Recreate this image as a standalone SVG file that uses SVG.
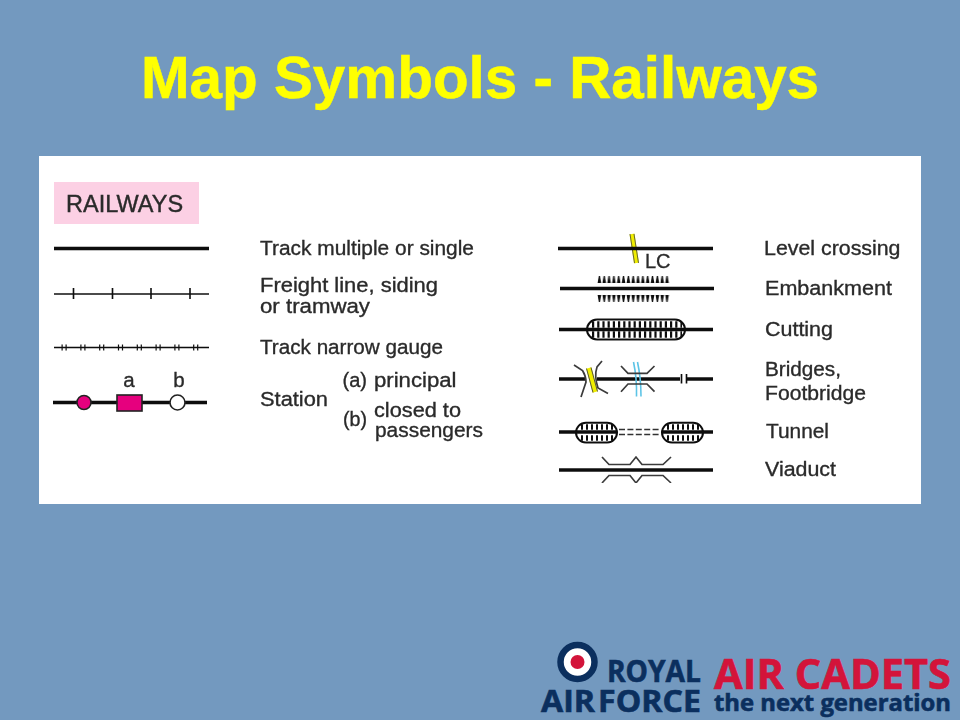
<svg xmlns="http://www.w3.org/2000/svg" width="960" height="720" viewBox="0 0 960 720">
<style>
text{font-family:"Liberation Sans",Arial,sans-serif}
.t{font-size:20.5px;fill:#2a2a2a;stroke:#2a2a2a;stroke-width:0.35}
.l{font-family:"Open Sans","Liberation Sans",sans-serif;font-weight:700;stroke-width:0.6}
.n{fill:#0b2f5e;stroke:#0b2f5e}
.r{fill:#d3143a;stroke:#d3143a}
.k{fill:none;stroke:#111}
.main{stroke-width:3.4}
.thin{stroke-width:1.6}
.sym{fill:none;stroke:#3a3a3a;stroke-width:1.7}
.cap{fill:none;stroke:#111;stroke-width:2}
</style>
<defs>
<filter id="soft" x="0" y="0" width="1" height="1"><feGaussianBlur stdDeviation="0.55"/></filter>
<pattern id="up" patternUnits="userSpaceOnUse" x="597" y="276" width="4.830" height="7"><path d="M1.800 0H3L4.200 7H0.600Z" fill="#111"/></pattern>
<pattern id="down" patternUnits="userSpaceOnUse" x="597" y="295" width="4.830" height="7"><path d="M0.600 0H4.200L3 7H1.800Z" fill="#111"/></pattern>
</defs>
<rect width="960" height="720" fill="#7399bf"/>
<text id="title" x="480" y="97.500" text-anchor="middle" font-size="58.400" font-weight="700" fill="#ffff00" stroke="#ffff00" stroke-width="0.500">Map Symbols - Railways</text>
<rect id="panel" x="39" y="156" width="882" height="348" fill="#fff"/>
<g filter="url(#soft)">
<g id="heading"><rect x="54" y="182" width="145" height="42" fill="#fcd0e4"/><text x="66" y="212" font-size="23.500" fill="#2a2a2a" stroke="#2a2a2a" stroke-width="0.400">RAILWAYS</text></g>
<g id="track"><path class="k main" d="M54 248.500H209"/><text class="t" x="260" y="255" textLength="214" lengthAdjust="spacingAndGlyphs">Track multiple or single</text></g>
<g id="freight"><path class="k thin" d="M54 294H209M73.500 288v11M112.500 288v11M151 288v11M190 288v11"/><text class="t" x="260" y="292" textLength="178" lengthAdjust="spacingAndGlyphs">Freight line, siding</text><text class="t" x="260" y="312.500" textLength="110" lengthAdjust="spacingAndGlyphs">or tramway</text></g>
<g id="narrow"><path class="k thin" d="M54 347.500H209"/><path class="k" stroke-width="6" stroke-dasharray="1.200 2.800 1.200 13.600" d="M61.500 347.500H207"/><text class="t" x="260" y="354" textLength="183" lengthAdjust="spacingAndGlyphs">Track narrow gauge</text></g>
<g id="station">
<path class="k main" d="M53 402.500H207"/>
<circle cx="84" cy="402.500" r="7" fill="#e6007e" stroke="#222" stroke-width="1.600"/>
<rect x="117" y="395" width="25" height="16" fill="#e6007e" stroke="#222" stroke-width="1.600"/>
<circle cx="177.500" cy="402.500" r="7.500" fill="#fff" stroke="#222" stroke-width="1.600"/>
<text class="t" x="129" y="387" text-anchor="middle">a</text><text class="t" x="179" y="387" text-anchor="middle">b</text>
<text class="t" x="260" y="405.500" textLength="68" lengthAdjust="spacingAndGlyphs">Station</text>
<text class="t" x="342.500" y="387" textLength="24.500" lengthAdjust="spacingAndGlyphs">(a)</text><text class="t" x="374" y="386.500" textLength="82.500" lengthAdjust="spacingAndGlyphs">principal</text>
<text class="t" x="343" y="426" textLength="24" lengthAdjust="spacingAndGlyphs">(b)</text><text class="t" x="374" y="416.500" textLength="87" lengthAdjust="spacingAndGlyphs">closed to</text><text class="t" x="375" y="436.500" textLength="108" lengthAdjust="spacingAndGlyphs">passengers</text>
</g>
<g id="level-crossing"><path d="M632 234L636.500 263" fill="none" stroke="#f0ee00" stroke-width="5"/><path d="M630 234L634.500 263M634 234L638.500 263" fill="none" stroke="#444" stroke-width="0.800"/><path class="k main" d="M558 248.500H713"/><text x="645" y="267.500" font-size="20" fill="#2a2a2a" stroke="#2a2a2a" stroke-width="0.300">LC</text><text class="t" x="764" y="255" textLength="136.500" lengthAdjust="spacingAndGlyphs">Level crossing</text></g>
<g id="embankment"><path class="k main" d="M560 288.500H714"/><rect x="597" y="276" width="72.500" height="7" fill="url(#up)"/><rect x="597" y="295" width="72.500" height="7" fill="url(#down)"/><text class="t" x="765" y="295" textLength="127" lengthAdjust="spacingAndGlyphs">Embankment</text></g>
<g id="cutting"><path class="k" stroke-width="6.500" stroke-dasharray="2.200 3" d="M592 324.500H682M592 334.500H682"/><path class="k main" d="M559 329.500H713"/><rect class="cap" x="587" y="319.500" width="98" height="20" rx="10"/><text class="t" x="765" y="336" textLength="68" lengthAdjust="spacingAndGlyphs">Cutting</text></g>
<g id="bridges">
<path class="k main" d="M559 379H586M597 379H680M686.500 379H713"/>
<path class="k thin" d="M681.500 374v9.500M686.500 374v9.500"/>
<path d="M588.800 368L595.200 392" fill="none" stroke="#f0ee00" stroke-width="5.500"/><path d="M586.500 368.500L593 392.500M591 367.500L597.500 391.500" fill="none" stroke="#444" stroke-width="0.900"/>
<path class="sym" d="M574 365L582.500 370.500Q586 376 586 382L581 397M602 361L597 367Q594 376 598 388L608 393.500"/>
<path d="M633.500 362Q637 378 636.500 396.500M637.500 362Q641 378 641 396.500" fill="none" stroke="#5cc4e6" stroke-width="1.600"/>
<path class="sym" d="M621 366L628 373.300H647L654.500 366M621 391.700L628 384H647L654.500 391.700"/>
<text class="t" x="765" y="375.500" textLength="76" lengthAdjust="spacingAndGlyphs">Bridges,</text><text class="t" x="765" y="400" textLength="101" lengthAdjust="spacingAndGlyphs">Footbridge</text>
</g>
<g id="tunnel">
<path class="k main" d="M559 432H617M662 432H713"/>
<path class="k" stroke-width="5.500" stroke-dasharray="2 3" d="M581 427H614M581 438H614M667 427H699M667 438H699"/>
<rect class="cap" x="576" y="422.700" width="41" height="19.800" rx="9.900"/><rect class="cap" x="662" y="422.700" width="41" height="19.800" rx="9.900"/>
<path d="M619 429.500H661M619 434.500H661" fill="none" stroke="#333" stroke-width="1.600" stroke-dasharray="6 2.400"/>
<text class="t" x="766" y="438" textLength="63" lengthAdjust="spacingAndGlyphs">Tunnel</text></g>
<g id="viaduct"><path class="k main" d="M559 470H713"/>
<path class="sym" d="M602 457L609 464.500H630L636 457L642 464.500H663L671 457M602 483L609 475.500H630L636 483L642 475.500H663L671 483"/>
<text class="t" x="765" y="476" textLength="71" lengthAdjust="spacingAndGlyphs">Viaduct</text></g>
</g>
<g id="logo">
<circle cx="577.500" cy="662" r="17" fill="#fff" stroke="#0b2f5e" stroke-width="6.500"/><circle cx="577.500" cy="662" r="7" fill="#d3143a"/>
<text class="l n" x="607" y="682" font-size="30" textLength="94" lengthAdjust="spacingAndGlyphs">ROYAL</text>
<text class="l n" x="541" y="712" font-size="30" word-spacing="-5" textLength="160" lengthAdjust="spacingAndGlyphs">AIR FORCE</text>
<text class="l r" x="714" y="689" font-size="41" textLength="237" lengthAdjust="spacingAndGlyphs">AIR CADETS</text>
<text class="l n" x="714" y="711" font-size="22.500" textLength="237" lengthAdjust="spacingAndGlyphs">the next generation</text>
</g>
</svg>
